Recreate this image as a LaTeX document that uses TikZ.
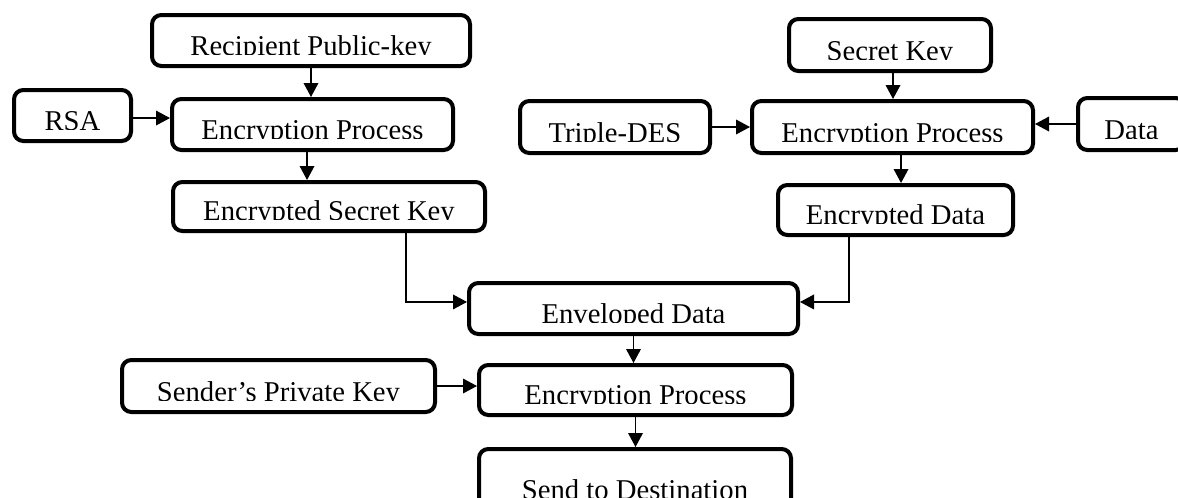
\documentclass[tikz,border=0pt]{standalone}
\usepackage{fontspec}
\setmainfont{Liberation Serif}
\usetikzlibrary{arrows.meta}
\tikzset{
  box/.style={draw=black, line width=3pt, rounded corners=7pt, inner sep=0pt, fill=white},
  lbl/.style={inner sep=0pt, font=\fontsize{21.5}{24}\selectfont},
  arr/.style={draw=black, line width=1pt, -{Triangle[length=10.5pt,width=11pt]}},
}
% #1 name, #2 left, #3 top, #4 right, #5 bottom, #6 label (baseline-clipped)
\newcommand{\labelbox}[6]{%
  \node[box, minimum width={(#4-#2-4)*0.75pt}, minimum height={(#5-#3-4)*0.75pt}]
    (#1) at ({(#2+#4)/2},{(#3+#5)/2}) {};
  \begin{scope}
    \clip (#2,#3) rectangle (#4,#5-14);
    \node[lbl, anchor=base] (#1-text) at ({(#2+#4)/2},#5-12.5) {#6};
  \end{scope}}
\begin{document}
\begin{tikzpicture}[x=0.75pt,y=-0.75pt]
\useasboundingbox (0,0) rectangle (1178,497);
\clip (0,0) rectangle (1178,497);

% left branch: secret key wrapped with RSA
\labelbox{recip}{150}{13}{472}{68}{Recipient Public-key}
\labelbox{rsa}{12}{88}{133}{143}{RSA}
\labelbox{encl}{170}{97}{455}{152}{Encryption Process}
\labelbox{esk}{171}{180}{487}{233}{Encrypted Secret Key}

% right branch: data encrypted with Triple-DES
\labelbox{seckey}{787}{17}{993}{73}{Secret Key}
\labelbox{tdes}{518}{99}{712}{155}{Triple-DES}
\labelbox{encr}{750}{99}{1035}{155}{Encryption Process}
\labelbox{data}{1076}{96}{1187}{152}{Data}
\labelbox{edata}{776}{183}{1015}{237}{Encrypted Data}

% envelope, signing and sending
\labelbox{env}{467}{281}{800}{336}{Enveloped Data}
\labelbox{spk}{120}{358}{437}{414}{Sender’s Private Key}
\labelbox{encb}{477}{363}{794}{417}{Encryption Process}
\labelbox{send}{477}{447}{793}{512}{Send to Destination}

% connectors
\draw[arr] (recip.south) -- (recip.south |- encl.north);
\coordinate (rsaout) at ([yshift=-1.9pt]rsa.east);
\draw[arr] (rsaout) -- (rsaout -| encl.west);
\coordinate (enclout) at ([xshift=-4.1pt]encl.south);
\draw[arr] (enclout) -- (enclout |- esk.north);

\coordinate (skout) at ([xshift=2.25pt]seckey.south);
\draw[arr] (skout) -- (skout |- encr.north);
\draw[arr] (tdes.east) -- (tdes.east -| encr.west);
\draw[arr] (data.west) -- (data.west -| encr.east);
\coordinate (encrout) at ([xshift=6.4pt]encr.south);
\draw[arr] (encrout) -- (encrout |- edata.north);

\coordinate (eskout) at ([xshift=57.75pt]esk.south);
\draw[arr] (eskout) |- ([yshift=4.9pt]env.west);
\coordinate (edout) at ([xshift=-34.9pt]edata.south);
\draw[arr] (edout) |- ([yshift=4.9pt]env.east);

\draw[arr] (env.south) -- (env.south |- encb.north);
\draw[arr] (spk.east) -- (spk.east -| encb.west);
\draw[arr] (encb.south) -- (encb.south |- send.north);
\end{tikzpicture}
\end{document}
